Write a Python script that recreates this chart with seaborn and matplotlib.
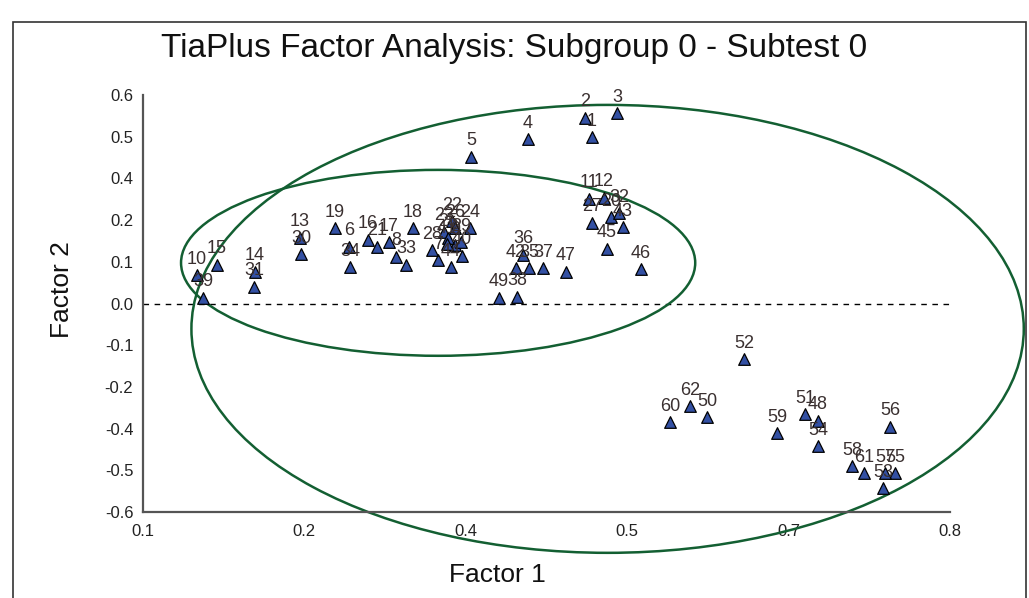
import numpy as np
import pandas as pd
import matplotlib
matplotlib.use("Agg")
import matplotlib.pyplot as plt
from matplotlib.patches import Ellipse, Rectangle
import seaborn as sns

# ---- data ----
items = list(range(1, 63))
factor1 = [0.4895, 0.4834, 0.5112, 0.4340, 0.3845, 0.2787, 0.3559, 0.3195, 0.3706, 0.1468,
           0.4869, 0.4999, 0.2362, 0.1971, 0.1642, 0.2952, 0.3134, 0.3342, 0.2665, 0.5059,
           0.3030, 0.3680, 0.3611, 0.3836, 0.3646, 0.3706, 0.4895, 0.3507, 0.3758, 0.2370,
           0.1963, 0.5129, 0.3281, 0.2796, 0.4348, 0.4296, 0.4470, 0.4244, 0.1520, 0.3767,
           0.3637, 0.4235, 0.5164, 0.3672, 0.5025, 0.5320, 0.4669, 0.6855, 0.4088, 0.5892,
           0.6742, 0.6213, 0.7419, 0.6855, 0.7523, 0.7480, 0.7436, 0.7150, 0.6500, 0.5571,
           0.7254, 0.5745]
factor2 = [0.479, 0.534, 0.548, 0.473, 0.422, 0.163, 0.125, 0.134, 0.168, 0.082,
           0.301, 0.304, 0.189, 0.091, 0.111, 0.183, 0.177, 0.217, 0.217, 0.249,
           0.163, 0.237, 0.206, 0.217, 0.189, 0.217, 0.232, 0.154, 0.177, 0.142,
           0.048, 0.260, 0.111, 0.105, 0.102, 0.140, 0.102, 0.019, 0.016, 0.137,
           0.171, 0.102, 0.220, 0.105, 0.157, 0.099, 0.091, -0.338, 0.016, -0.327,
           -0.318, -0.160, -0.531, -0.410, -0.488, -0.355, -0.488, -0.468, -0.373, -0.341,
           -0.488, -0.295]

# cluster ellipses: centre x, centre y, width, height (data units)
ell_cx = [0.356, 0.503]
ell_cy = [0.117, -0.073]
ell_w = [0.446, 0.722]
ell_h = [0.535, 1.289]

xticks = np.linspace(0.1, 0.8, 6)
yticks = np.linspace(-0.6, 0.6, 11)

df = pd.DataFrame({"item": items, "Factor 1": factor1, "Factor 2": factor2})

sns.set_style("white")
plt.rcParams["font.family"] = ["Liberation Sans", "DejaVu Sans"]

fig = plt.figure(figsize=(10.29, 5.98), dpi=100)
ax = fig.add_axes([143/1029, 1-512/598, (950-143)/1029, (512-95)/598])

ax.axhline(0, color="black", lw=1.0, ls=(0, (4, 4)), zorder=1)

sns.scatterplot(data=df, x="Factor 1", y="Factor 2", marker="^", s=70,
                color="#3350a3", edgecolor="black", linewidth=0.9, ax=ax, zorder=3,
                clip_on=False)

for it, x, y in zip(items, factor1, factor2):
    ax.annotate(str(it), (x, y), xytext=(0, 11.5), textcoords="offset points",
                ha="center", va="center", fontsize=13, color="#3a3030", zorder=4)

for cx, cy, w, h in zip(ell_cx, ell_cy, ell_w, ell_h):
    e = Ellipse((cx, cy), w, h, fill=False, edgecolor="#135f32", lw=1.8,
                clip_on=False, zorder=2)
    ax.add_patch(e)

ax.set_xlim(0.1, 0.8)
ax.set_ylim(-0.6, 0.6)
ax.set_xticks(xticks)
ax.set_yticks(yticks)
ax.set_xticklabels([f"{v:.1f}" for v in xticks])
ax.set_yticklabels([f"{v:.1f}" for v in yticks])
ax.tick_params(axis="both", direction="inout", length=12, width=1.3,
               color="#333333", labelsize=12, labelcolor="#222222")
ax.tick_params(axis="y", pad=1)
ax.tick_params(axis="x", pad=3)
for t in ax.yaxis.get_major_ticks():
    if abs(t.get_loc()) < 1e-9:
        t.tick1line.set_visible(False)
        t.tick2line.set_visible(False)

for s in ["top", "right"]:
    ax.spines[s].set_visible(False)
for s in ["left", "bottom"]:
    ax.spines[s].set_color("#555555")
    ax.spines[s].set_linewidth(1.6)
ax.set_xlabel("")
ax.set_ylabel("")

fig.text(0.5, 1-48/598, "TiaPlus Factor Analysis: Subgroup 0 - Subtest 0",
         ha="center", va="center", fontsize=24, color="#111111")
fig.text(497/1029, 1-575/598, "Factor 1", ha="center", va="center",
         fontsize=19, color="#111111")
fig.text(62/1029, 1-290/598, "Factor 2", ha="center", va="center",
         fontsize=19, color="#111111", rotation=90)

fig.add_artist(Rectangle((13/1029, -0.05), (1026-13)/1029, 1.05-22/598,
                         transform=fig.transFigure, fill=False,
                         edgecolor="#333333", lw=1.2))

fig.savefig("out.png", dpi=100)
